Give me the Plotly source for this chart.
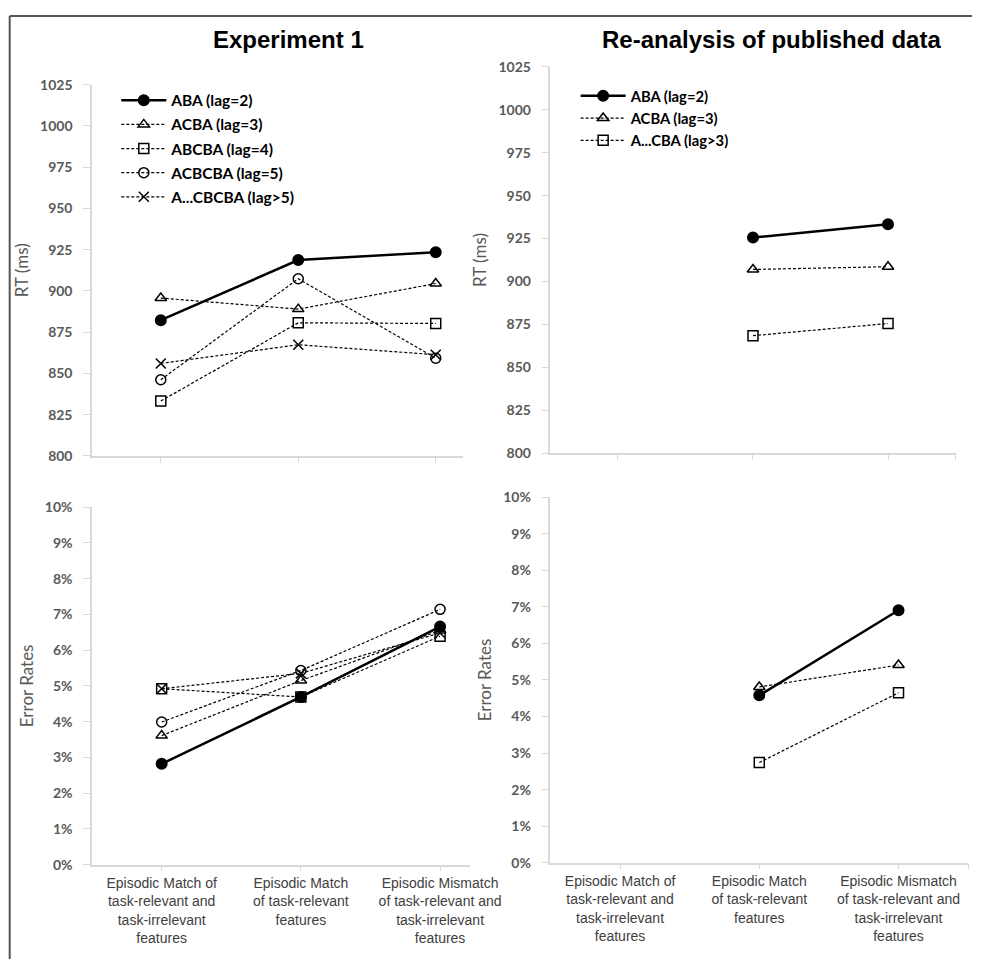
import plotly.graph_objects as go

categories = [
    "Episodic Match of<br>task-relevant and<br>task-irrelevant<br>features",
    "Episodic Match<br>of task-relevant<br>features",
    "Episodic Mismatch<br>of task-relevant and<br>task-irrelevant<br>features",
]

# Experiment 1 - RT (ms)
exp1_names = ["ABA (lag=2)", "ACBA (lag=3)", "ABCBA (lag=4)", "ACBCBA (lag=5)", "A...CBCBA (lag>5)"]
exp1_rt = [
    [882.3, 918.7, 923.5],
    [895.7, 889.0, 904.5],
    [833.3, 880.7, 880.3],
    [846.2, 907.4, 859.3],
    [856.1, 867.4, 861.4],
]
# Experiment 1 - Error rates
exp1_err = [
    [0.0282, 0.0469, 0.0666],
    [0.0361, 0.0515, 0.0655],
    [0.0492, 0.0469, 0.0639],
    [0.0399, 0.0543, 0.0714],
    [0.0492, 0.0535, 0.0648],
]

# Re-analysis of published data
re_names = ["ABA (lag=2)", "ACBA (lag=3)", "A...CBA (lag>3)"]
re_rt = [
    [None, 925.6, 933.4],
    [None, 907.0, 908.6],
    [None, 868.4, 875.5],
]
re_err = [
    [None, 0.0458, 0.0691],
    [None, 0.0481, 0.0541],
    [None, 0.0274, 0.0465],
]

titles = ["Experiment 1", "Re-analysis of published data"]

W, H = 1003, 967
exp1_styles = [
    dict(symbol="circle", size=10.5, dash="solid", width=2.5),
    dict(symbol="triangle-up-open", size=10, dash="3px,2px", width=1.2),
    dict(symbol="square-open", size=10, dash="3px,2px", width=1.2),
    dict(symbol="circle-open", size=10, dash="3px,2px", width=1.2),
    dict(symbol="x-thin-open", size=10, dash="3px,2px", width=1.2),
]
re_styles = [exp1_styles[0], exp1_styles[1], exp1_styles[2]]

xs = list(range(len(categories)))

fig = go.Figure()


def add_series(names, data, styles, xa, ya, legend, show):
    for i, (n, vals) in enumerate(zip(names, data)):
        s = styles[i]
        fig.add_trace(go.Scatter(
            x=xs, y=vals, name=n, mode="lines+markers",
            xaxis=xa, yaxis=ya, legend=legend, showlegend=show,
            legendgroup=legend + str(i),
            line=dict(color="black", width=s["width"], dash=s["dash"]),
            marker=dict(symbol=s["symbol"], size=s["size"], color="black",
                        line=dict(color="black", width=1.5)),
            connectgaps=False,
        ))


add_series(exp1_names, exp1_rt, exp1_styles, "x", "y", "legend", True)
add_series(re_names, re_rt, re_styles, "x2", "y2", "legend2", True)
add_series(exp1_names, exp1_err, exp1_styles, "x3", "y3", "legend", False)
add_series(re_names, re_err, re_styles, "x4", "y4", "legend", False)


def px(x):
    return x / W


def py(y):
    return 1 - y / H


axis_col = "#d9d9d9"
tick_font = dict(family="Lato", size=14, color="#595959", weight="bold")
title_font = dict(family="Lato", size=17, color="#595959")
cat_font = dict(family="Liberation Sans", size=14, color="#404040")

common_x = dict(showline=True, linecolor=axis_col, linewidth=1.5, ticks="outside",
                ticklen=5, tickcolor=axis_col, showgrid=False, zeroline=False,
                tickvals=xs, ticktext=categories, tickfont=cat_font)
right_x = dict(common_x, tickvals=xs + [2.5], ticktext=categories + [""])
common_y = dict(showline=True, linecolor=axis_col, linewidth=1.5, ticks="outside",
                ticklen=7, tickcolor=axis_col, showgrid=False, zeroline=False,
                ticklabelstandoff=8,
                tickfont=tick_font, title_font=title_font, title_standoff=7)

fig.update_layout(
    width=W, height=H, margin=dict(l=0, r=0, t=0, b=0),
    plot_bgcolor="white", paper_bgcolor="white",
    xaxis=dict(common_x, domain=[px(95), px(478)], range=[-0.5, 2.2], anchor="y",
               showticklabels=False),
    yaxis=dict(common_y, domain=[py(455), py(77)], range=[800, 1025], dtick=25,
               anchor="x", title_text="RT (ms)"),
    xaxis2=dict(right_x, domain=[px(568), px(986)], range=[-0.5, 2.5], anchor="y2",
                showticklabels=False),
    yaxis2=dict(common_y, domain=[py(452), py(59)], range=[800, 1025], dtick=25,
                anchor="x2", title_text="RT (ms)"),
    xaxis3=dict(common_x, domain=[px(95), px(485)], range=[-0.5, 2.215], anchor="y3"),
    yaxis3=dict(common_y, domain=[py(871), py(507)], range=[0, 0.10], dtick=0.01,
                tickformat=".0%", anchor="x3", title_text="Error Rates"),
    xaxis4=dict(right_x, domain=[px(568), px(999)], range=[-0.5, 2.5], anchor="y4"),
    yaxis4=dict(common_y, domain=[py(869), py(497)], range=[0, 0.10], dtick=0.01,
                tickformat=".0%", anchor="x4", title_text="Error Rates"),
    legend=dict(x=px(120), y=py(76), xanchor="left", yanchor="top",
                bgcolor="rgba(0,0,0,0)", tracegroupgap=1, itemwidth=45,
                font=dict(family="Lato", size=15.5, color="black", weight="bold")),
    legend2=dict(x=px(594), y=py(72), xanchor="left", yanchor="top",
                 bgcolor="rgba(0,0,0,0)", tracegroupgap=0, itemwidth=45,
                 font=dict(family="Lato", size=14.8, color="black", weight="bold")),
    showlegend=True,
)

fig.add_annotation(text="<b>" + titles[0] + "</b>", x=px(298), y=py(31), xref="paper",
                   yref="paper", showarrow=False, xanchor="center", yanchor="middle",
                   font=dict(family="Liberation Sans", size=24, color="black"))
fig.add_annotation(text="<b>" + titles[1] + "</b>", x=px(796), y=py(31), xref="paper",
                   yref="paper", showarrow=False, xanchor="center", yanchor="middle",
                   font=dict(family="Liberation Sans", size=24, color="black"))

# figure frame
fig.add_shape(type="line", xref="paper", yref="paper", x0=px(10), x1=px(10), y0=py(7), y1=0,
              line=dict(color="#555555", width=2))
fig.add_shape(type="line", xref="paper", yref="paper", x0=px(10), x1=1, y0=py(7), y1=py(7),
              line=dict(color="#555555", width=2))

fig.write_html(
    "out.html",
    config={"displayModeBar": False},
    post_script="document.body.style.margin='0';"
                "document.body.style.overflow='hidden';",
)
